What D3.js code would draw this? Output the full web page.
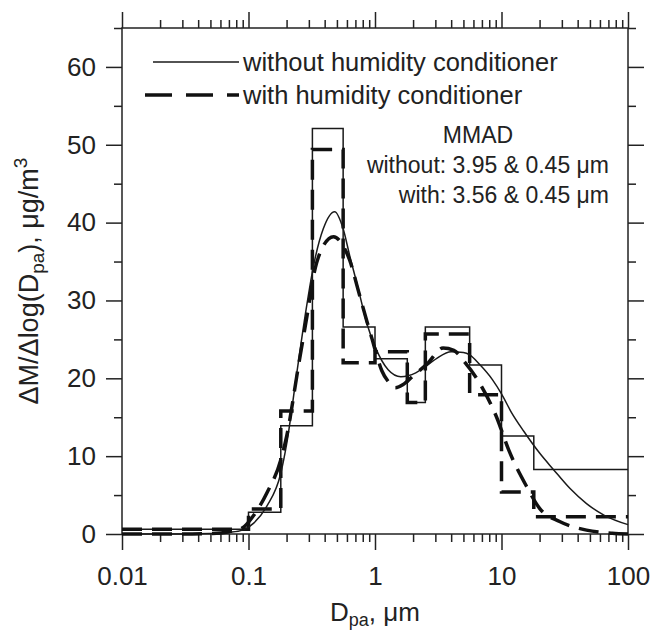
<!DOCTYPE html>
<html>
<head>
<meta charset="utf-8">
<script src="https://cdn.jsdelivr.net/npm/d3@7"></script>
<style>
  body { margin: 0; background: #fff; }
  svg { display: block; font-family: 'Liberation Sans', Arial, sans-serif; }
  .axis path.domain { display: none; }
  .axis line { stroke: #222; stroke-width: 1.5; }
  .axis text { fill: #222; font-size: 26px; font-family: 'Liberation Sans', Arial, sans-serif; }
</style>
</head>
<body>
<div id="chart"></div>
<script>
// bin edges of the impactor stages (um)
const binEdges = [0.01, 0.1, 0.18, 0.32, 0.56, 1.0, 1.8, 2.5, 5.6, 10, 18, 100]
const binsWithout = [0.6, 2.8, 13.9, 52.1, 26.6, 22.5, 16.9, 26.6, 21.7, 12.6, 8.3]
const binsWith = [0.6, 3.2, 15.8, 49.4, 22.0, 23.4, 16.9, 25.7, 17.9, 5.4, 2.2]

// fitted curves: [Dpa, value]
const fitWithout = [
  [0.01, 0.0], [0.03, 0.0], [0.05, 0.05], [0.07, 0.2], [0.09, 0.5], [0.11, 1.4],
  [0.14, 3.6], [0.18, 7.8], [0.2, 11.5], [0.24, 20.5], [0.28, 28], [0.33, 34.8],
  [0.39, 39.2], [0.48, 41.4], [0.56, 39.2], [0.63, 35.8], [0.74, 31.4], [0.86, 27.1],
  [1.0, 24.1], [1.27, 21.1], [1.6, 20.2], [2.1, 20.7], [2.6, 21.7], [3.1, 22.6],
  [4.0, 23.4], [5.0, 23.3], [5.6, 23.0], [6.7, 21.8], [8.5, 19.8], [10, 18.0],
  [12, 15.6], [15, 13.2], [20, 10.4], [25.7, 8.3], [35, 5.8], [47, 3.9], [65, 2.4], [100, 1.2]
]
const fitWith = [
  [0.01, 0.0], [0.03, 0.0], [0.05, 0.05], [0.07, 0.3], [0.09, 0.8], [0.11, 2.4],
  [0.14, 5.3], [0.18, 9.5], [0.2, 12.5], [0.25, 21.9], [0.29, 28], [0.33, 33.5],
  [0.39, 37], [0.47, 38.2], [0.56, 37.0], [0.63, 35.2], [0.74, 31.2], [0.86, 27.4],
  [0.95, 25.0], [1.03, 23.0], [1.13, 21.0], [1.27, 19.6], [1.45, 18.8], [1.67, 19.2],
  [2.0, 20.3], [2.6, 21.9], [3.45, 23.9], [4.2, 23.6], [5.1, 22.1], [6.7, 19.4],
  [9.1, 15.1], [11.4, 10.8], [15.8, 6.1], [20, 3.3], [28.8, 1.6], [47, 0.5], [75, 0.1], [100, 0.0]
]

const xMajor = [0.01, 0.1, 1, 10, 100]
const xLabels = ['0.01', '0.1', '1', '10', '100']
const yMajor = [0, 10, 20, 30, 40, 50, 60]
const yMinor = [5, 15, 25, 35, 45, 55, 65]

const W = 653, H = 635
const margin = {top: 28, right: 25, bottom: 101, left: 122}
const width = W - margin.left - margin.right
const height = H - margin.top - margin.bottom

const xMinor = []
xMajor.slice(0, -1).forEach((d) => {
  for (let k = 2; k <= 9; k++) xMinor.push(d * k)
})

const svg = d3.select('#chart').append('svg')
  .attr('width', W).attr('height', H)
const g = svg.append('g')
  .attr('transform', 'translate(' + margin.left + ',' + margin.top + ')')

const x = d3.scaleLog().domain([0.01, 100]).range([0, width])
const y = d3.scaleLinear().domain([0, 65]).range([height, 0])

// axes: major + minor ticks on all four sides, all pointing outward
g.append('g').attr('class', 'axis').attr('transform', 'translate(0,' + height + ')')
  .call(d3.axisBottom(x).tickValues(xMajor).tickSize(16).tickPadding(17)
    .tickFormat((d, i) => xLabels[i]))
g.append('g').attr('class', 'axis').attr('transform', 'translate(0,' + height + ')')
  .call(d3.axisBottom(x).tickValues(xMinor).tickSize(8).tickFormat(''))
g.append('g').attr('class', 'axis')
  .call(d3.axisTop(x).tickValues(xMajor).tickSize(16).tickFormat(''))
g.append('g').attr('class', 'axis')
  .call(d3.axisTop(x).tickValues(xMinor).tickSize(8).tickFormat(''))

g.append('g').attr('class', 'axis')
  .call(d3.axisLeft(y).tickValues(yMajor).tickSize(16).tickPadding(10))
g.append('g').attr('class', 'axis')
  .call(d3.axisLeft(y).tickValues(yMinor).tickSize(8).tickFormat(''))
g.append('g').attr('class', 'axis').attr('transform', 'translate(' + width + ',0)')
  .call(d3.axisRight(y).tickValues(yMajor).tickSize(16).tickFormat(''))
g.append('g').attr('class', 'axis').attr('transform', 'translate(' + width + ',0)')
  .call(d3.axisRight(y).tickValues(yMinor).tickSize(8).tickFormat(''))

g.append('rect')
  .attr('width', width).attr('height', height)
  .attr('fill', 'none').attr('stroke', '#222').attr('stroke-width', 1.5)

// histograms
const step = d3.line().x((d) => x(d[0])).y((d) => y(d[1])).curve(d3.curveStepAfter)
const stepPts = (vals) => binEdges.map((e, i) => [e, vals[Math.min(i, vals.length - 1)]])

g.append('path').datum(stepPts(binsWithout))
  .attr('d', step).attr('fill', 'none').attr('stroke', '#1a1a1a').attr('stroke-width', 1.5)
g.append('path').datum(stepPts(binsWith))
  .attr('d', step).attr('fill', 'none').attr('stroke', '#111').attr('stroke-width', 3.5)
  .attr('stroke-dasharray', '20,10')

// fitted curves
const smooth = d3.line().x((d) => x(d[0])).y((d) => y(d[1])).curve(d3.curveMonotoneX)
g.append('path').datum(fitWithout)
  .attr('d', smooth).attr('fill', 'none').attr('stroke', '#1a1a1a').attr('stroke-width', 1.5)
g.append('path').datum(fitWith)
  .attr('d', smooth).attr('fill', 'none').attr('stroke', '#111').attr('stroke-width', 3.5)
  .attr('stroke-dasharray', '20,10')

// legend
svg.append('line').attr('x1', 153).attr('x2', 239).attr('y1', 62).attr('y2', 62)
  .attr('stroke', '#1a1a1a').attr('stroke-width', 1.5)
svg.append('line').attr('x1', 145).attr('x2', 239).attr('y1', 95).attr('y2', 95)
  .attr('stroke', '#111').attr('stroke-width', 3.5).attr('stroke-dasharray', '27,14')
svg.append('text').attr('x', 243).attr('y', 71).attr('font-size', 25.5).attr('fill', '#222')
  .text('without humidity conditioner')
svg.append('text').attr('x', 243).attr('y', 104).attr('font-size', 25.5).attr('fill', '#222')
  .text('with humidity conditioner')

// MMAD annotation
svg.append('text').attr('x', 478).attr('y', 143).attr('text-anchor', 'middle')
  .attr('font-size', 23).attr('fill', '#222').text('MMAD')
svg.append('text').attr('x', 609).attr('y', 173).attr('text-anchor', 'end')
  .attr('font-size', 23).attr('fill', '#222').text('without: 3.95 & 0.45 \u03bcm')
svg.append('text').attr('x', 609).attr('y', 203).attr('text-anchor', 'end')
  .attr('font-size', 23).attr('fill', '#222').text('with: 3.56 & 0.45 \u03bcm')

// axis titles
const xt = svg.append('text').attr('x', margin.left + width / 2).attr('y', 621)
  .attr('text-anchor', 'middle').attr('font-size', 26).attr('fill', '#222')
xt.append('tspan').text('D')
xt.append('tspan').attr('font-size', 18).attr('dy', 5).text('pa')
xt.append('tspan').attr('dy', -5).text(', \u03bcm')

const yt = svg.append('text')
  .attr('transform', 'translate(38,' + (margin.top + height / 2) + ') rotate(-90)')
  .attr('text-anchor', 'middle').attr('font-size', 27).attr('fill', '#222')
yt.append('tspan').text('\u0394M/\u0394log(D')
yt.append('tspan').attr('font-size', 19).attr('dy', 6).text('pa')
yt.append('tspan').attr('dy', -6).text('), \u03bcg/m')
yt.append('tspan').attr('font-size', 19).attr('dy', -11).text('3')
</script>
</body>
</html>
